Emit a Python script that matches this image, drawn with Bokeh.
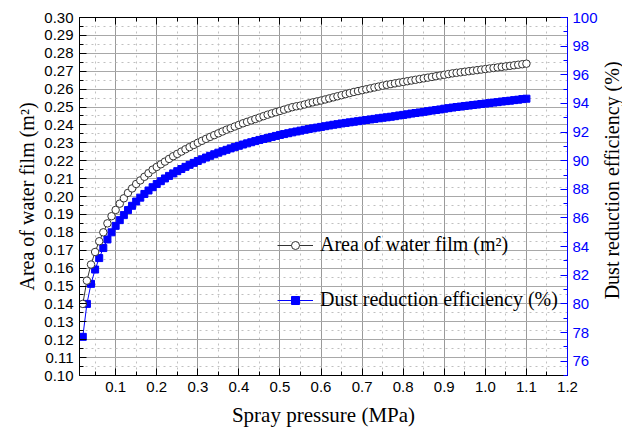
import math
from bokeh.plotting import figure
from bokeh.layouts import row
from bokeh.models import Range1d, LinearAxis, FixedTicker, Legend, LegendItem, NumeralTickFormatter
from bokeh.core.properties import value
from bokeh.embed import file_html
from bokeh.resources import INLINE

# Spray pressure (MPa): sampled every 0.01 from 0.02 to 1.10
pressure = [round(0.01 * i, 2) for i in range(2, 111)]

# Area of water film (m2)
area = [
    0.140, 0.153, 0.162, 0.169, 0.175, 0.180, 0.185, 0.189, 0.1925, 0.196,
    0.199, 0.202, 0.2045, 0.207, 0.209, 0.211, 0.213, 0.215, 0.2165, 0.218,
    0.2195, 0.221, 0.2225, 0.2238, 0.2251, 0.2264, 0.2276, 0.2288, 0.2300, 0.2311,
    0.2322, 0.2333, 0.2343, 0.2353, 0.2363, 0.2373, 0.2382, 0.2391, 0.2400, 0.2409,
    0.2417, 0.2425, 0.2433, 0.2441, 0.2449, 0.2457, 0.2464, 0.2471, 0.2478, 0.2485,
    0.2492, 0.2499, 0.2504, 0.2508, 0.2514, 0.2520, 0.2526, 0.2531, 0.2536, 0.2542,
    0.2548, 0.2554, 0.2560, 0.2566, 0.2572, 0.2578, 0.2584, 0.2589, 0.2594, 0.2599,
    0.2604, 0.2609, 0.2614, 0.2619, 0.2624, 0.2628, 0.2632, 0.2636, 0.2640, 0.2644,
    0.2648, 0.2652, 0.2656, 0.2660, 0.2664, 0.2668, 0.2672, 0.2676, 0.2680, 0.2684,
    0.2688, 0.2691, 0.2694, 0.2697, 0.2700, 0.2703, 0.2706, 0.2709, 0.2712, 0.2715,
    0.2718, 0.2721, 0.2724, 0.2727, 0.2730, 0.2733, 0.2736, 0.2739, 0.2742,
]

# Dust reduction efficiency (%)
efficiency = [
    77.7, 80.0, 81.4, 82.4, 83.2, 83.9, 84.5, 85.0, 85.45, 85.85,
    86.2, 86.55, 86.85, 87.15, 87.42, 87.68, 87.92, 88.15, 88.37, 88.57,
    88.76, 88.94, 89.11, 89.27, 89.42, 89.57, 89.71, 89.85, 89.98, 90.10,
    90.22, 90.34, 90.45, 90.56, 90.66, 90.76, 90.86, 90.95, 91.04, 91.13,
    91.21, 91.29, 91.37, 91.45, 91.52, 91.59, 91.66, 91.73, 91.80, 91.86,
    91.92, 91.98, 92.04, 92.10, 92.16, 92.21, 92.26, 92.31, 92.36, 92.41,
    92.46, 92.51, 92.55, 92.60, 92.64, 92.68, 92.72, 92.76, 92.80, 92.84,
    92.88, 92.92, 92.96, 93.00, 93.03, 93.07, 93.11, 93.16, 93.20, 93.24,
    93.29, 93.33, 93.37, 93.41, 93.46, 93.50, 93.54, 93.58, 93.63, 93.67,
    93.71, 93.75, 93.78, 93.82, 93.85, 93.89, 93.92, 93.96, 93.99, 94.02,
    94.06, 94.09, 94.13, 94.16, 94.19, 94.23, 94.26, 94.30, 94.33,
]

x_ticks = [0.1, 0.2, 0.3, 0.4, 0.5, 0.6, 0.7, 0.8, 0.9, 1.0, 1.1, 1.2]
x_minor = [0.05, 0.15, 0.25, 0.35, 0.45, 0.55, 0.65, 0.75, 0.85, 0.95, 1.05, 1.15]
left_ticks = [0.10, 0.11, 0.12, 0.13, 0.14, 0.15, 0.16, 0.17, 0.18, 0.19, 0.20,
              0.21, 0.22, 0.23, 0.24, 0.25, 0.26, 0.27, 0.28, 0.29, 0.30]
left_minor = [0.105, 0.115, 0.125, 0.135, 0.145, 0.155, 0.165, 0.175, 0.185, 0.195,
              0.205, 0.215, 0.225, 0.235, 0.245, 0.255, 0.265, 0.275, 0.285, 0.295]
right_ticks = [76, 78, 80, 82, 84, 86, 88, 90, 92, 94, 96, 98, 100]
right_minor = [75, 77, 79, 81, 83, 85, 87, 89, 91, 93, 95, 97, 99]
right_title = ["Dust reduction efficiency (%)"]

SANS = "Liberation Sans"
SERIF = "Liberation Serif"
BLUE = "#0000ff"

p = figure(width=600, height=433, x_range=Range1d(0.012, 1.2), y_range=Range1d(0.10, 0.30),
           output_backend="svg", toolbar_location=None,
           min_border_left=79, min_border_right=30, min_border_top=17, min_border_bottom=58)
p.extra_y_ranges = {"eff": Range1d(75, 100)}
p.outline_line_color = "black"
p.outline_line_width = 1
p.background_fill_color = "white"


def style_axis(ax, color="black"):
    ax.axis_line_color = color
    ax.major_tick_line_color = color
    ax.minor_tick_line_color = color
    ax.major_tick_in = 7
    ax.major_tick_out = 0
    ax.minor_tick_in = 4
    ax.minor_tick_out = 0
    ax.major_label_text_font = SANS
    ax.major_label_text_font_size = "15px"
    ax.major_label_text_color = color
    ax.axis_label_text_font = SERIF
    ax.axis_label_text_font_size = "20px"
    ax.axis_label_text_font_style = "normal"
    ax.axis_label_text_color = "black"


xb = p.xaxis[0]
xb.ticker = FixedTicker(ticks=x_ticks, minor_ticks=x_minor)
xb.formatter = NumeralTickFormatter(format="0.0")
style_axis(xb)
xb.axis_label = "Spray pressure (MPa)"
xb.axis_label_text_font_size = "21px"
xb.major_label_standoff = 6
xb.axis_label_standoff = 8

yl = p.yaxis[0]
yl.ticker = FixedTicker(ticks=left_ticks, minor_ticks=left_minor)
yl.formatter = NumeralTickFormatter(format="0.00")
style_axis(yl)
yl.axis_label = "Area of water film (m²)"
yl.major_label_standoff = 6
yl.axis_label_standoff = 3

xt = LinearAxis(ticker=FixedTicker(ticks=x_ticks, minor_ticks=x_minor))
style_axis(xt)
xt.major_label_overrides = {t: "" for t in x_ticks}
xt.major_label_standoff = 0
p.add_layout(xt, "above")

yr = LinearAxis(y_range_name="eff", ticker=FixedTicker(ticks=right_ticks, minor_ticks=right_minor))
style_axis(yr, BLUE)
yr.major_label_standoff = 5
p.add_layout(yr, "right")

p.xgrid.grid_line_color = "#9a9a9a"
p.xgrid.grid_line_width = 1
p.xgrid.minor_grid_line_color = "#c0c0c0"
p.xgrid.minor_grid_line_dash = "dotted"
p.ygrid.grid_line_color = "#a8a8a8"
p.ygrid.grid_line_width = 1
p.ygrid.minor_grid_line_color = "#c0c0c0"
p.ygrid.minor_grid_line_dash = "dotted"

l_eff = p.line(pressure, efficiency, y_range_name="eff", line_color=BLUE, line_width=1)
s_eff = p.scatter(pressure, efficiency, y_range_name="eff", marker="square", size=7,
                  fill_color=BLUE, line_color=BLUE)
l_area = p.line(pressure, area, line_color="#333333", line_width=1)
s_area = p.scatter(pressure, area, marker="circle", size=7.5, fill_color="white",
                   line_color="#333333", line_width=1)

legend = Legend(items=[
    LegendItem(label="Area of water film (m²)", renderers=[l_area, s_area]),
    LegendItem(label="Dust reduction efficiency (%)", renderers=[l_eff, s_eff]),
], location=(198, 64))
legend.label_text_font = SERIF
legend.label_text_font_size = "20px"
legend.label_text_color = "black"
legend.background_fill_alpha = 0
legend.border_line_color = None
legend.glyph_width = 36
legend.label_standoff = 7
legend.spacing = 32
legend.padding = 4
legend.margin = 0
p.add_layout(legend, "center")

# narrow strip on the right holding the right-axis title (reads bottom to top)
side = figure(width=22, height=433, x_range=Range1d(0, 1), y_range=Range1d(0, 1),
              output_backend="svg", toolbar_location=None, min_border=0)
side.axis.visible = False
side.grid.visible = False
side.outline_line_color = None
side.background_fill_color = "white"
side.text(x=[0.5], y=[0.545], text=right_title, angle=math.pi / 2,
          text_align="center", text_baseline="middle",
          text_font=value(SERIF), text_font_size="20px", text_color="black")

layout = row(p, side)
open("out.html", "w").write(file_html(layout, INLINE))
